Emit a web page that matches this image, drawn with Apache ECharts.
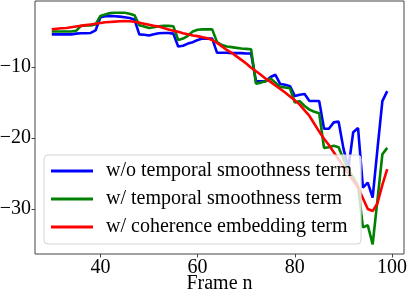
<!DOCTYPE html>
<html><head><meta charset="utf-8">
<script src="https://cdn.jsdelivr.net/npm/echarts@6/dist/echarts.min.js"></script>
<style>html,body{margin:0;padding:0;background:#fff}#c{width:407px;height:293px}</style>
</head><body><div id="c"></div>
<script>
const frameStart = 30;
const blueVals = [
-5.4,-5.4,-5.4,-5.4,-5.4,
-5.3,-5.25,-5.25,-5.2,-4.85,
-3.0,-2.85,-2.8,-2.85,-2.9,
-3.0,-3.1,-3.3,-5.4,-5.45,
-5.55,-5.4,-5.25,-5.2,-5.2,
-5.3,-7.1,-7.0,-6.7,-6.5,
-6.2,-6.0,-6.0,-6.0,-8.0,
-8.0,-8.0,-8.05,-8.05,-8.05,
-8.1,-8.1,-12.0,-12.0,-12.0,
-11.4,-11.1,-12.4,-12.5,-12.7,
-14.1,-13.9,-13.8,-14.8,-14.8,
-14.8,-18.7,-18.7,-17.8,-17.7,
-21.5,-24.3,-19.2,-18.6,-27.0,
-26.3,-28.4,-21.5,-14.8,-13.4
];
const greenVals = [
-5.0,-5.0,-5.0,-5.0,-5.0,
-4.9,-4.2,-4.15,-4.15,-4.0,
-2.8,-2.6,-2.4,-2.35,-2.35,
-2.35,-2.5,-2.7,-4.1,-4.3,
-4.5,-4.4,-4.25,-4.2,-4.2,
-4.25,-6.2,-6.0,-5.6,-5.0,
-4.75,-4.7,-4.7,-4.7,-6.5,
-6.9,-7.1,-7.2,-7.3,-7.4,
-7.45,-7.5,-12.35,-12.2,-12.0,
-11.6,-12.2,-12.8,-12.9,-13.0,
-15.0,-14.8,-15.5,-16.0,-16.3,
-16.5,-21.4,-21.3,-21.1,-21.3,
-23.0,-24.5,-25.5,-26.8,-32.6,
-32.3,-35.0,-28.7,-22.3,-21.4
];
const redVals = [
-4.7,-4.6,-4.55,-4.5,-4.4,
-4.3,-4.2,-4.1,-4.0,-3.9,
-3.8,-3.7,-3.65,-3.6,-3.55,
-3.53,-3.55,-3.62,-3.75,-3.9,
-4.05,-4.2,-4.3,-4.5,-4.7,
-4.9,-5.05,-5.25,-5.4,-5.55,
-5.65,-5.8,-5.95,-6.2,-6.6,
-7.1,-7.6,-8.0,-8.5,-9.0,
-9.5,-10.1,-10.6,-11.1,-11.65,
-12.1,-12.6,-13.1,-13.6,-14.15,
-14.7,-15.3,-16.1,-16.9,-18.0,
-19.1,-20.1,-21.0,-22.0,-23.0,
-24.0,-25.0,-26.0,-27.0,-28.5,
-30.0,-30.3,-29.2,-26.6,-24.4
];
const seriesNames = ['w/o temporal smoothness term','w/ temporal smoothness term','w/ coherence embedding term'];
const seriesColors = ['#0000ff','#008000','#ff0000'];
const xTicks = [40,60,80,100];
const yTicks = [-10,-20,-30];

const toPairs = arr => arr.map((v,i)=>[frameStart+i, v]);
const allVals = [blueVals, greenVals, redVals];
const font = "'Liberation Serif', 'Times New Roman', serif";
const chart = echarts.init(document.getElementById('c'), null, {renderer:'canvas'});
chart.setOption({
  animation:false,
  backgroundColor:'#fff',
  grid:{left:35,right:3,top:1,bottom:39,show:true,borderColor:'#444',borderWidth:1,containLabel:false,outerBoundsMode:'none'},
  xAxis:{type:'value',min:26.55,max:102.45,
    name:'Frame n',nameLocation:'middle',nameGap:20,nameMoveOverlap:false,
    nameTextStyle:{fontFamily:font,fontSize:20,color:'#000'},
    axisLine:{show:false},splitLine:{show:false},
    axisTick:{show:true,length:3.5,lineStyle:{color:'#444'},customValues:xTicks},
    axisLabel:{fontFamily:font,fontSize:20,color:'#000',margin:4,customValues:xTicks}},
  yAxis:{type:'value',min:-36.35,max:-0.7,
    axisLine:{show:false},splitLine:{show:false},
    axisTick:{show:true,length:3.5,lineStyle:{color:'#444'},customValues:yTicks},
    axisLabel:{fontFamily:font,fontSize:20,color:'#000',margin:4,customValues:yTicks,
      formatter:v=>v<0?'\u2212'+Math.abs(v):String(v)}},
  legend:{orient:'vertical',left:44,top:155,
    icon:'rect',itemWidth:42,itemHeight:3,itemGap:8,
    padding:[6,9,7,7],
    backgroundColor:'rgba(255,255,255,0.8)',borderColor:'#d5d5d5',borderWidth:1,borderRadius:4,
    textStyle:{fontFamily:font,fontSize:20,color:'#000',lineHeight:20,padding:[0,0,0,8]},
    data:seriesNames},
  series: allVals.map((vals,i)=>({
    name:seriesNames[i],type:'line',data:toPairs(vals),
    symbol:'none',smooth:false,
    lineStyle:{width:2.6,color:seriesColors[i]},
    itemStyle:{color:seriesColors[i]}
  }))
});
</script></body></html>
